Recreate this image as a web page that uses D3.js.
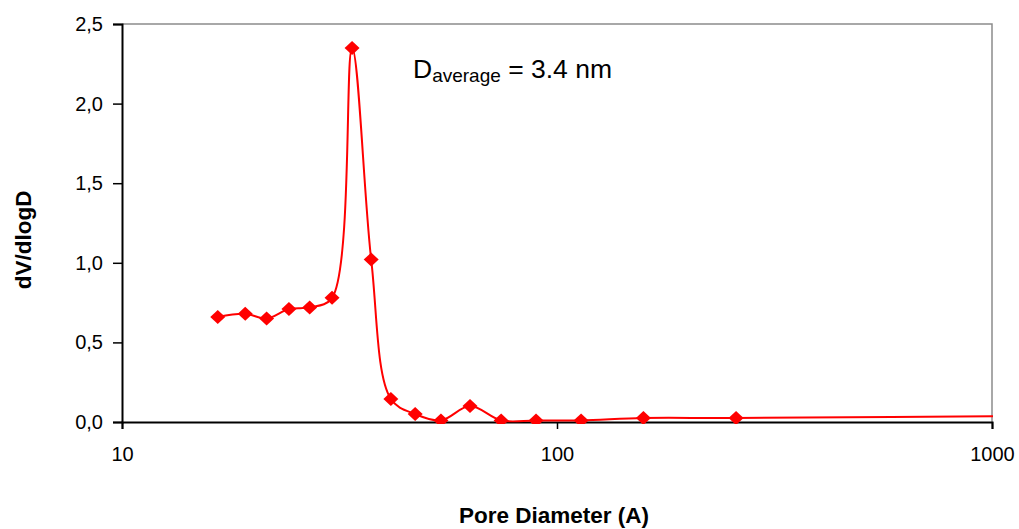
<!DOCTYPE html>
<html><head><meta charset="utf-8">
<script src="https://cdn.jsdelivr.net/npm/d3@7"></script>
<style>body{margin:0;background:#fff}svg{display:block}</style>
</head><body>
<script>
const poreDiameter = [16.6, 19.2, 21.5, 24.2, 27.0, 30.4, 33.8, 37.4, 41.5, 47.2, 54.1, 63.1, 74.4, 89.5, 113.6, 158, 258, 1500];
const dVdlogD     = [0.66, 0.68, 0.65, 0.71, 0.72, 0.78, 2.35, 1.02, 0.145, 0.05, 0.01, 0.10, 0.01, 0.01, 0.01, 0.025, 0.025, 0.04];
const xTicks = [10, 100, 1000];
const yTicks = [0, 0.5, 1.0, 1.5, 2.0, 2.5];

const W = 1019, H = 529;
const L = 122, R = 992, T = 24, B = 422;
const svg = d3.select("body").append("svg").attr("width", W).attr("height", H);
const x = d3.scaleLog().domain([10, 1000]).range([L, R]);
const y = d3.scaleLinear().domain([0, 2.5]).range([B, T]);
const font = "'Liberation Sans', Arial, sans-serif";

svg.append("path").attr("d", `M${L},${T}H${R}V${B}`).attr("fill","none").attr("stroke","#8c8c8c").attr("stroke-width",1.5);

svg.append("defs").append("clipPath").attr("id","clip")
  .append("rect").attr("x",L).attr("y",T-10).attr("width",R-L+1).attr("height",B-T+12);

const fmt = d => d3.format(".1f")(d).replace(".", ",");
const yAxis = svg.append("g").attr("transform", `translate(${L},0)`)
  .call(d3.axisLeft(y).tickValues(yTicks).tickFormat(fmt).tickSize(9).tickPadding(10));
const xAxis = svg.append("g").attr("transform", `translate(0,${B})`)
  .call(d3.axisBottom(x).tickValues(xTicks).tickFormat(d3.format("d")).tickSize(7).tickPadding(18));
[yAxis, xAxis].forEach(a => {
  a.select(".domain").attr("stroke","#000").attr("stroke-width",2);
  a.selectAll(".tick line").attr("stroke","#000").attr("stroke-width",1.5);
  a.selectAll("text").attr("font-family", font).attr("font-size", 20).attr("fill","#000");
});

const data = poreDiameter.map((d,i)=>({x:d, y:dVdlogD[i]}));
const g = svg.append("g").attr("clip-path","url(#clip)");
g.append("path").datum(data)
  .attr("d", d3.line().x(d=>x(d.x)).y(d=>y(d.y)).curve(d3.curveCatmullRom.alpha(0.5)))
  .attr("fill","none").attr("stroke","#ff0000").attr("stroke-width",2);
g.selectAll("path.m").data(data).enter().append("path").attr("class","m")
  .attr("d", "M0,-7L7.5,0L0,7L-7.5,0Z")
  .attr("transform", d=>`translate(${x(d.x)},${y(d.y)})`)
  .attr("fill","#ff0000");

const t = svg.append("text").attr("x", 413).attr("y", 78).attr("font-family", font).attr("font-size", 26.5).attr("fill","#000");
t.append("tspan").text("D");
t.append("tspan").attr("font-size", 19).attr("dy", 4).text("average");
t.append("tspan").attr("dy", -4).text(" = 3.4 nm");

svg.append("text").attr("x", 554).attr("y", 523).attr("text-anchor","middle")
  .attr("font-family", font).attr("font-size", 22.5).attr("font-weight","bold").text("Pore Diameter (A)");
svg.append("text").attr("transform","translate(31,240) rotate(-90)").attr("text-anchor","middle")
  .attr("font-family", font).attr("font-size", 22.5).attr("font-weight","bold").text("dV/dlogD");
</script>
</body></html>
